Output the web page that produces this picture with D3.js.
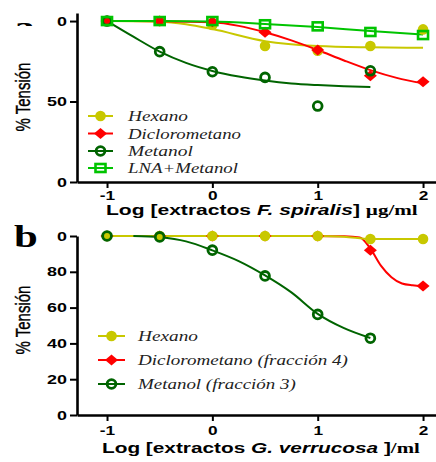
<!DOCTYPE html>
<html>
<head>
<meta charset="utf-8">
<script src="https://cdn.jsdelivr.net/npm/d3@7"></script>
<style>
  html, body { margin: 0; padding: 0; background: #fff; }
  svg { display: block; }
</style>
</head>
<body>
<div id="chart"></div>
<script>
// Dose levels (log concentration)
const doses = [-1, -0.5, 0, 0.5, 1, 1.5, 2];
const xTickValues = [-1, 0, 1, 2];

// Panel a: F. spiralis (inhibition of tension, 0 at top)
const aHexano = [0, 0, 2.5, 15.5, 18.4, 15.5, 5.2];
const aDicloro = [0, 0, 0.5, 7, 18, 34, 37.7];
const aMetanol = [0, 19, 31.5, 35, 52.8, 30.9];
const aLNA = [0, 0, 0, 2, 3.3, 6.8, 8.7];

// Fitted curves
const aHexanoFitX = [-1, -0.5, -0.25, 0, 0.5, 1, 1.5, 2];
const aHexanoFit = [0, 0.4, 2, 5, 12.5, 15.5, 16.3, 16.6];
const aDicloroFitX = [-1, -0.5, 0, 0.25, 0.5, 0.75, 1, 1.25, 1.5, 1.75, 2];
const aDicloroFit = [0, 0.1, 0.8, 3, 7, 12, 18, 24.5, 30.5, 35.3, 38.7];
const aMetanolFitX = [-1, -0.75, -0.5, -0.25, 0, 0.25, 0.5, 0.75, 1, 1.25, 1.5];
const aMetanolFit = [0, 9.7, 19, 26, 31, 34.5, 37, 38.8, 39.8, 40.5, 41];
const aLNAFitX = [-1, -0.5, 0, 0.5, 1, 1.5, 2];
const aLNAFit = [0, 0, 0.3, 1.8, 3.7, 6.2, 8.3];

// Panel b: G. verrucosa (% tension)
const bHexano = [100, 100, 100, 100, 100, 98.3, 98.3];
const bDicloro = [100, 100, 100, 100, 100, 92.1, 72.1];
const bMetanol = [100, 99.5, 92.1, 77.7, 56.2, 42.9];

const bHexanoFitX = [-1, 0, 1, 1.25, 1.5, 2];
const bHexanoFit = [100, 100, 100, 99.6, 98.3, 98.3];
const bDicloroFitX = [0.95, 1.25, 1.4, 1.5, 1.6, 1.7, 1.8, 1.9, 2];
const bDicloroFit = [100, 99.8, 99.2, 93, 83.5, 77, 73.5, 72.5, 72.1];
const bMetanolFitX = [-0.75, -0.5, -0.25, 0, 0.25, 0.5, 0.75, 1, 1.25, 1.5];
const bMetanolFit = [100, 99.3, 97, 92, 86, 78, 68.5, 56.5, 48.5, 43];

// Tick labels as printed
const aYTicks = [0, 50, 100];
const aYLabels = ["0", "50", "0"];
const bYTicks = [0, 20, 40, 60, 80, 100];
const bYLabels = ["0", "20", "40", "60", "80", "0"];

const width = 436;
const height = 462;
const SX = 1.38; // horizontal stretch of the original figure's text

const cYellow = "#c8c800";
const cRed = "#ff0000";
const cDark = "#006400";
const cGreen = "#00c400";

const svg = d3
  .select("#chart")
  .append("svg")
  .attr("width", width)
  .attr("height", height)
  .style("background", "#fff");

// Shared x scale (axis line runs from the y axis to the right edge)
const x = d3.scaleLinear().domain([-1.285, 2.123]).range([77, 436]);

const yA = d3.scaleLinear().domain([-5, 100]).range([13, 182]);
const yB = d3.scaleLinear().domain([0, 100]).range([415, 236]);

const sansBold = "'Liberation Sans', Arial, sans-serif";
const serif = "'Liberation Serif', 'Times New Roman', serif";

// Text stretched to a given width
function fitText(parent, parts, xPos, yPos, targetWidth, font) {
  const t = parent
    .append("text")
    .attr("x", 0)
    .attr("y", 0)
    .style("font-family", font.family)
    .style("font-size", font.size + "px")
    .style("font-weight", font.weight || "normal")
    .style("font-style", font.style || "normal")
    .attr("fill", font.fill || "#000");
  parts.forEach((p) => {
    t.append("tspan")
      .style("font-style", p.style || null)
      .style("font-family", p.family || null)
      .text(p.text);
  });
  const len = t.node().getComputedTextLength();
  const k = targetWidth / len;
  t.attr("transform", `translate(${xPos},${yPos}) scale(${k},1)`);
  return t;
}

function drawAxes(yScale, yTicks, yLabels, axisY, xLabelY) {
  const gx = svg
    .append("g")
    .attr("transform", `translate(0,${axisY})`)
    .call(
      d3.axisBottom(x).tickValues(xTickValues).tickSize(6).tickSizeOuter(0)
    );
  gx.select(".domain").attr("stroke-width", 2.6);
  gx.selectAll(".tick line").attr("stroke-width", 2);
  gx.selectAll(".tick text")
    .attr("y", xLabelY)
    .attr("dy", 0)
    .attr("transform", `scale(${SX},1)`)
    .attr("x", 0)
    .style("font-family", sansBold)
    .style("font-weight", "bold")
    .style("font-size", "12.5px")
    .attr("fill", "#000")
    .text((d) => (d < 0 ? "-" + Math.abs(d) : d));

  const gy = svg
    .append("g")
    .attr("transform", "translate(77,0)")
    .call(
      d3
        .axisLeft(yScale)
        .tickValues(yTicks)
        .tickSize(7)
        .tickSizeOuter(0)
        .tickFormat((d, i) => yLabels[i])
    );
  gy.select(".domain").attr("stroke-width", 2.6);
  gy.selectAll(".tick line").attr("stroke-width", 2);
  gy.selectAll(".tick text")
    .attr("x", -10 / SX)
    .attr("transform", `scale(${SX},1)`)
    .style("font-family", sansBold)
    .style("font-weight", "bold")
    .style("font-size", "13px")
    .attr("fill", "#000");
}

function drawCurve(xs, ys, yScale, color) {
  const pts = xs.map((d, i) => [d, ys[i]]);
  svg
    .append("path")
    .datum(pts)
    .attr("fill", "none")
    .attr("stroke", color)
    .attr("stroke-width", 2)
    .attr(
      "d",
      d3
        .line()
        .x((d) => x(d[0]))
        .y((d) => yScale(d[1]))
        .curve(d3.curveMonotoneX)
    );
}

function marker(g, type, color) {
  if (type === "dot") {
    g.append("circle").attr("r", 5.3).attr("fill", color);
  } else if (type === "diamond") {
    g.append("path").attr("d", "M0,-5.5L6.5,0L0,5.5L-6.5,0Z").attr("fill", color);
  } else if (type === "ring") {
    g.append("circle")
      .attr("r", 4.4)
      .attr("fill", "none")
      .attr("stroke", color)
      .attr("stroke-width", 2.8);
  } else if (type === "square") {
    g.append("rect")
      .attr("x", -5)
      .attr("y", -4)
      .attr("width", 10)
      .attr("height", 8)
      .attr("fill", "none")
      .attr("stroke", color)
      .attr("stroke-width", 2.6);
  }
}

function drawMarkers(values, yScale, type, color) {
  svg
    .append("g")
    .selectAll("g")
    .data(values)
    .enter()
    .append("g")
    .attr("transform", (d, i) => `translate(${x(doses[i])},${yScale(d)})`)
    .each(function () {
      marker(d3.select(this), type, color);
    });
}

function drawLegend(items, lineX0, lineX1, textX) {
  items.forEach((it) => {
    svg
      .append("line")
      .attr("x1", lineX0)
      .attr("x2", lineX1)
      .attr("y1", it.y)
      .attr("y2", it.y)
      .attr("stroke", it.color)
      .attr("stroke-width", 2);
    const g = svg
      .append("g")
      .attr("transform", `translate(${(lineX0 + lineX1) / 2},${it.y})`);
    marker(g, it.type, it.color);
    fitText(svg, [{ text: it.label }], textX, it.y + 5, it.w, {
      family: serif,
      size: 15,
      style: "italic",
      fill: "#222",
    });
  });
}

// ---------- Panel a ----------
drawAxes(yA, aYTicks, aYLabels, 182, 18);

drawCurve(aHexanoFitX, aHexanoFit, yA, cYellow);
drawCurve(aDicloroFitX, aDicloroFit, yA, cRed);
drawCurve(aMetanolFitX, aMetanolFit, yA, cDark);
drawCurve(aLNAFitX, aLNAFit, yA, cGreen);

drawMarkers(aHexano, yA, "dot", cYellow);
drawMarkers(aDicloro, yA, "diamond", cRed);
drawMarkers(aMetanol, yA, "ring", cDark);
drawMarkers(aLNA, yA, "square", cGreen);

drawLegend(
  [
    { label: "Hexano", y: 116, color: cYellow, type: "dot", w: 60 },
    { label: "Diclorometano", y: 133.5, color: cRed, type: "diamond", w: 113 },
    { label: "Metanol", y: 151, color: cDark, type: "ring", w: 65 },
    { label: "LNA+Metanol", y: 168, color: cGreen, type: "square", w: 110 },
  ],
  88,
  113,
  128
);

// ---------- Panel b ----------
drawAxes(yB, bYTicks, bYLabels, 415, 20);

drawCurve(bDicloroFitX, bDicloroFit, yB, cRed);
drawCurve(bHexanoFitX, bHexanoFit, yB, cYellow);
drawCurve(bMetanolFitX, bMetanolFit, yB, cDark);

drawMarkers(bDicloro, yB, "diamond", cRed);
drawMarkers(bHexano, yB, "dot", cYellow);
drawMarkers(bMetanol, yB, "ring", cDark);

drawLegend(
  [
    { label: "Hexano", y: 336, color: cYellow, type: "dot", w: 60 },
    { label: "Diclorometano (fracción 4)", y: 360, color: cRed, type: "diamond", w: 210 },
    { label: "Metanol (fracción 3)", y: 384, color: cDark, type: "ring", w: 158 },
  ],
  98,
  125,
  138
);

// ---------- Axis titles ----------
function yTitle(cy) {
  svg
    .append("text")
    .attr("text-anchor", "middle")
    .attr("transform", `translate(30,${cy}) scale(${SX},1) rotate(-90)`)
    .style("font-family", sansBold)
    .style("font-size", "15px")
    .style("stroke", "#000")
    .style("stroke-width", 0.3)
    .attr("fill", "#000")
    .text("% Tensión");
}
yTitle(97);
yTitle(320);

const boldSans = { family: sansBold, size: 14, weight: "bold" };
fitText(
  svg,
  [
    { text: "Log [extractos " },
    { text: "F. spiralis", style: "italic" },
    { text: "] " },
    { text: "µg/ml", family: serif },
  ],
  106,
  215,
  312,
  boldSans
);
fitText(
  svg,
  [
    { text: "Log [extractos " },
    { text: "G. verrucosa", style: "italic" },
    { text: " ]" },
    { text: "/ml", family: serif },
  ],
  102,
  453,
  318,
  boldSans
);

// ---------- Panel letters ----------
svg
  .append("defs")
  .append("clipPath")
  .attr("id", "clipA")
  .append("rect")
  .attr("x", 0)
  .attr("y", 16)
  .attr("width", 60)
  .attr("height", 10);
svg
  .append("g")
  .attr("clip-path", "url(#clipA)")
  .append("text")
  .attr("transform", `translate(14,37) scale(${SX},1)`)
  .style("font-family", serif)
  .style("font-weight", "bold")
  .style("font-size", "30px")
  .attr("fill", "#000")
  .text("a");
svg
  .append("text")
  .attr("transform", `translate(14,247) scale(${SX},1)`)
  .style("font-family", serif)
  .style("font-weight", "bold")
  .style("font-size", "31px")
  .attr("fill", "#000")
  .text("b");
</script>
</body>
</html>
